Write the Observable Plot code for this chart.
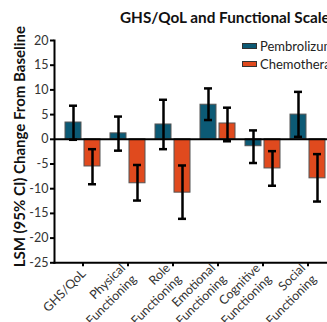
<!DOCTYPE html>
<html><head><meta charset="utf-8">
<script src="https://cdn.jsdelivr.net/npm/d3@7"></script>
<script src="https://cdn.jsdelivr.net/npm/@observablehq/plot@0.6"></script>
<style>
html,body{margin:0;padding:0;overflow:hidden;background:#fff;}
#wrap{position:relative;width:327px;height:322px;overflow:hidden;font-family:Lato,"Open Sans",sans-serif;}
#chart{position:absolute;left:0;top:0;width:370px;height:322px;}
#chart svg{max-width:none !important;width:370px !important;height:322px !important;}
#title{position:absolute;left:120px;top:8px;font-weight:bold;font-size:15.3px;white-space:nowrap;color:#111;}
#legend{position:absolute;left:242px;top:37px;font-size:13px;color:#222;white-space:nowrap;}
.row{display:flex;align-items:center;height:18px;}
.sw{width:13px;height:4px;border:1px solid #333;margin-right:3px;}
</style>
</head><body>
<div id="wrap">
  <div id="chart"></div>
  <div id="title"></div>
  <div id="legend"></div>
</div>
<script>
const titleText = "GHS/QoL and Functional Scales";
const yLabel = "LSM (95% CI) Change From Baseline";
const categories = ["GHS/QoL","Physical Functioning","Role Functioning","Emotional Functioning","Cognitive Functioning","Social Functioning"];
const tickLabels = ["GHS/QoL","Physical\nFunctioning","Role\nFunctioning","Emotional\nFunctioning","Cognitive\nFunctioning","Social\nFunctioning"];
const series = ["Pembrolizumab","Chemotherapy"];
const colors = ["#0c5a75","#e04a1e"];
const pembroLSM  = [3.4, 1.2, 3.0, 7.0, -1.4, 5.0];
const pembroLow  = [-0.1, -2.3, -2.0, 3.9, -4.8, 0.5];
const pembroHigh = [6.8, 4.6, 8.0, 10.3, 1.8, 9.6];
const chemoLSM   = [-5.5, -8.9, -10.8, 3.2, -5.9, -7.9];
const chemoLow   = [-9.1, -12.4, -16.1, -0.4, -9.4, -12.6];
const chemoHigh  = [-2.0, -5.2, -5.3, 6.4, -2.4, -3.0];
const yTicks = [20, 15, 10, 5, 0, -5, -10, -15, -20, -25];

const pembro = categories.map((c,i)=>({cat:c, v:pembroLSM[i], lo:pembroLow[i], hi:pembroHigh[i]}));
const chemo  = categories.map((c,i)=>({cat:c, v:chemoLSM[i], lo:chemoLow[i], hi:chemoHigh[i]}));

const errMarks = (data, dx, il, ir) => [
  Plot.ruleX(data, {x:"cat", y1:"lo", y2:"hi", dx, stroke:"#000", strokeWidth:2.5}),
  Plot.tickY(data, {x:"cat", y:"lo", insetLeft:il, insetRight:ir, stroke:"#000", strokeWidth:2.5}),
  Plot.tickY(data, {x:"cat", y:"hi", insetLeft:il, insetRight:ir, stroke:"#000", strokeWidth:2.5})
];

const chart = Plot.plot({
  width: 370,
  height: 322,
  marginLeft: 54,
  marginRight: 20,
  marginTop: 40,
  marginBottom: 59.7,
  style: {fontFamily: "Lato, 'Open Sans', sans-serif", background: "#fff", maxWidth: "none", overflow: "visible"},
  x: {domain: categories, range: [57, 332], padding: 0},
  y: {domain: [-25, 20]},
  marks: [
    Plot.barY(pembro, {x:"cat", y:"v", fill: colors[0], stroke:"#555", strokeWidth:1, insetLeft:5, insetRight:24}),
    Plot.barY(chemo, {x:"cat", y:"v", fill: colors[1], stroke:"#555", strokeWidth:1, insetLeft:24, insetRight:5}),
    ...errMarks(pembro, -9.5, 9, 28),
    ...errMarks(chemo, 9.5, 28, 9),
    Plot.ruleY([0], {stroke:"#000", strokeWidth:2}),
    Plot.frame({anchor:"left", stroke:"#000", strokeWidth:2}),
    Plot.frame({anchor:"bottom", stroke:"#000", strokeWidth:2}),
    Plot.axisY({ticks: yTicks, tickSize: 4, tickPadding: 2, strokeWidth: 2, tickFormat: d => String(d), fontSize: 12.5, fill:"#333", label: null}),
    Plot.axisX({tickSize: 4, tickPadding: 4, strokeWidth: 2, tickRotate: -45, tickFormat: (d) => tickLabels[categories.indexOf(d)], fontSize: 12.5, lineHeight: 1.25, fill:"#333", label: null}),
    Plot.text([yLabel], {frameAnchor:"left", textAnchor:"middle", rotate:-90, dx:-34, dy:-5, fontWeight:"bold", fontSize:15, fill:"#111"})
  ]
});
document.getElementById("chart").appendChild(chart);
document.getElementById("title").textContent = titleText;
const lg = document.getElementById("legend");
series.forEach((s,i)=>{
  const r = document.createElement("div"); r.className = "row";
  const sw = document.createElement("span"); sw.className = "sw"; sw.style.background = colors[i];
  const t = document.createElement("span"); t.textContent = s;
  r.appendChild(sw); r.appendChild(t); lg.appendChild(r);
});
</script>
</body></html>
